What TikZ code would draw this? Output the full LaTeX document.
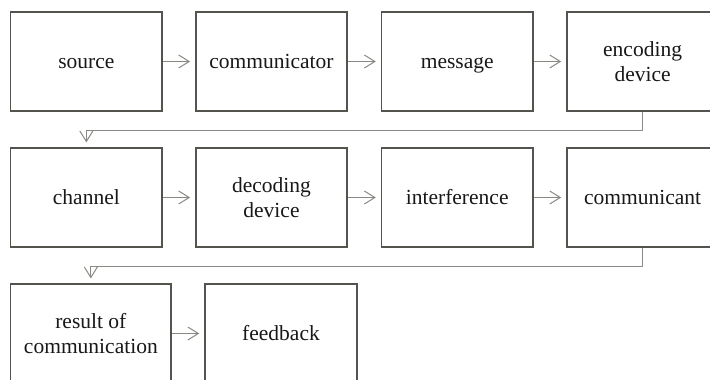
\documentclass[tikz,border=0pt]{standalone}
\usepackage{fontspec}
\setmainfont{Liberation Serif}
\usetikzlibrary{arrows.meta}
\definecolor{boxline}{RGB}{84,84,78}
\definecolor{arrowline}{RGB}{138,138,132}
\definecolor{txt}{RGB}{24,24,24}
\tikzset{
  stagebox/.style={draw=boxline, line width=1.5pt, rectangle, inner sep=0pt,
    minimum width=151.3pt, minimum height=98.6pt, align=center, text=txt,
    font=\fontsize{21.5}{25}\selectfont},
  % one-line labels sit on a common baseline
  single/.style={text height=20pt, text depth=5.2pt},
  wide/.style={minimum width=160.3pt},
  mid/.style={minimum width=152pt},
  flow/.style={draw=arrowline, line width=1pt,
    -{Straight Barb[length=10.5pt,width=13pt,line width=1pt]}},
}
\begin{document}
\begin{tikzpicture}[x=1pt,y=-1pt]
  \useasboundingbox (0,0) rectangle (710,380);
  \clip (0,0) rectangle (710,380);
  % first row
  \node[stagebox,single] (source) at (86.35,61.5) {source};
  \node[stagebox,single] (communicator) at (271.5,61.5) {communicator};
  \node[stagebox,single] (message) at (457.2,61.5) {message};
  \node[stagebox] (encoding) at (642.6,61.5) {encoding\\device};
  % second row
  \node[stagebox,single] (channel) at (86.35,197.5) {channel};
  \node[stagebox] (decoding) at (271.5,197.5) {decoding\\device};
  \node[stagebox,single] (interference) at (457.2,197.5) {interference};
  \node[stagebox,single] (communicant) at (642.6,197.5) {communicant};
  % third row
  \node[stagebox,wide] (result) at (90.85,333.5) {result of\\communication};
  \node[stagebox,mid,single] (feedback) at (281,333.5) {feedback};
  % arrows along the rows
  \draw[flow] (source.east) -- ([xshift=-5pt]communicator.west);
  \draw[flow] (communicator.east) -- ([xshift=-5pt]message.west);
  \draw[flow] (message.east) -- ([xshift=-5pt]encoding.west);
  \draw[flow] (channel.east) -- ([xshift=-5pt]decoding.west);
  \draw[flow] (decoding.east) -- ([xshift=-5pt]interference.west);
  \draw[flow] (interference.east) -- ([xshift=-5pt]communicant.west);
  \draw[flow] (result.east) -- ([xshift=-5pt]feedback.west);
  % wrap-around connectors between rows
  \draw[flow] (encoding.south) -- ++(0,18.5) -| ([yshift=5pt]channel.north);
  \draw[flow] (communicant.south) -- ++(0,18.5) -| ([yshift=5pt]result.north);
\end{tikzpicture}
\end{document}
